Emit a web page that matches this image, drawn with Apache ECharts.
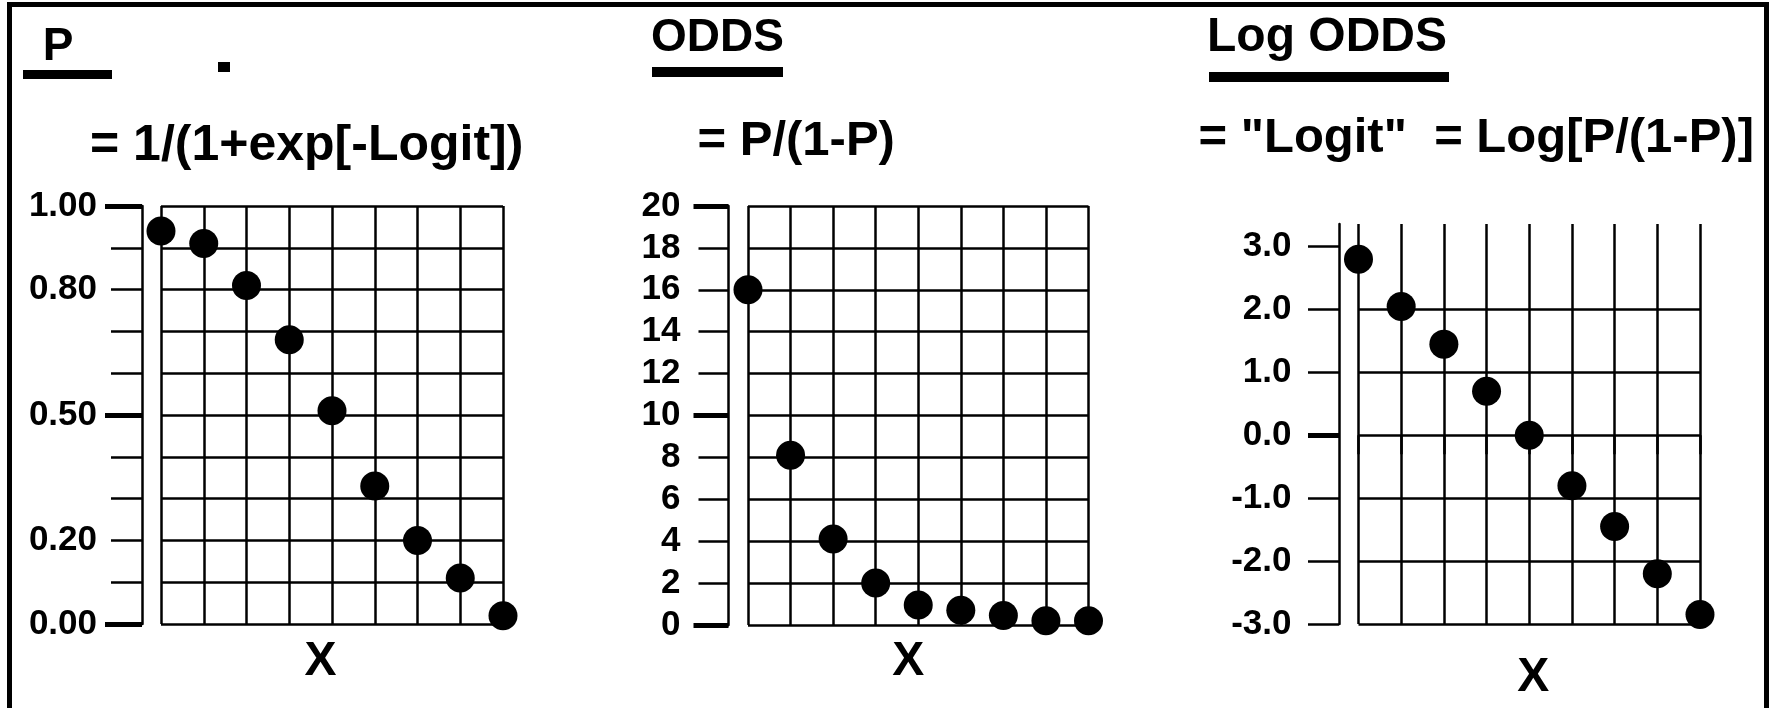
<!DOCTYPE html>
<html>
<head>
<meta charset="utf-8">
<script src="https://cdn.jsdelivr.net/npm/echarts@6/dist/echarts.min.js"></script>
<style>
html,body{margin:0;padding:0;background:#fff;}
#c{width:1769px;height:708px;}
</style>
</head>
<body>
<div id="c"></div>
<script>
// ---------- data ----------
const xValues = [1, 2, 3, 4, 5, 6, 7, 8, 9];
const pValues = [0.94, 0.91, 0.81, 0.68, 0.51, 0.33, 0.20, 0.11, 0.02];
const oddsValues = [16.0, 8.1, 4.1, 2.0, 0.95, 0.7, 0.45, 0.2, 0.2];
const logitValues = [2.8, 2.05, 1.45, 0.7, 0.0, -0.8, -1.45, -2.2, -2.85];

const pTickValues = [0, 0.2, 0.5, 0.8, 1.0];
const pTickLabels = ['0.00', '0.20', '0.50', '0.80', '1.00'];
const pMajorTicks = [0, 0.5, 1.0];

const oddsTickValues = [0, 2, 4, 6, 8, 10, 12, 14, 16, 18, 20];
const oddsTickLabels = ['0', '2', '4', '6', '8', '10', '12', '14', '16', '18', '20'];
const oddsMajorTicks = [0, 10, 20];

const logitTickValues = [-3, -2, -1, 0, 1, 2, 3];
const logitTickLabels = ['-3.0', '-2.0', '-1.0', '0.0', '1.0', '2.0', '3.0'];
const logitMajorTicks = [0];

const panelTitles = ['P', 'ODDS', 'Log ODDS'];
const panelFormulas = ['= 1/(1+exp[-Logit])', '= P/(1-P)', '= "Logit"  = Log[P/(1-P)]'];
const xAxisName = 'X';

// ---------- helpers ----------
const FONT = "'Liberation Sans', Arial, Helvetica, sans-serif";
const BLACK = '#000';
const LW = 2.5;

function labelFor(values, labels) {
  return function (v) {
    for (let i = 0; i < values.length; i++) {
      if (Math.abs(values[i] - v) < 1e-9) return labels[i];
    }
    return '';
  };
}
function pairs(ys) { return xValues.map((x, i) => [x, ys[i]]); }

const grids = [
  { left: 161, top: 206, width: 342, height: 418 },
  { left: 748, top: 206, width: 340.5, height: 419 },
  { left: 1358.5, top: 224, width: 341.5, height: 400 }
];

const xAxisCfg = [
  { nameGap: 14, padding: [0, 23, 0, 0], tick: false },
  { nameGap: 13, padding: [0, 20, 0, 0], tick: false },
  { nameGap: 30, padding: [0, 0, 0, 8], tick: true }
];

const xAxes = xAxisCfg.map((c, i) => ({
  gridIndex: i,
  type: 'value',
  min: 1, max: 9, interval: 1,
  axisLine: { show: false },
  axisLabel: { show: false },
  axisTick: { show: c.tick, length: 19, lineStyle: { color: BLACK, width: LW } },
  splitLine: { show: true, lineStyle: { color: BLACK, width: LW } },
  name: xAxisName,
  nameLocation: 'middle',
  nameGap: c.nameGap,
  nameTextStyle: { fontSize: 48, fontWeight: 'bold', fontFamily: FONT, color: BLACK, padding: c.padding }
}));

const yPanels = [
  { min: 0, max: 1, interval: 0.1, offset: 19, tickLen: 31, majorLen: 37, margin: 45,
    labelValues: pTickValues, labels: pTickLabels, major: pMajorTicks, tickValues: null },
  { min: 0, max: 20, interval: 2, offset: 19.5, tickLen: 30, majorLen: 35, margin: 48,
    labelValues: oddsTickValues, labels: oddsTickLabels, major: oddsMajorTicks, tickValues: null },
  { min: -3, max: 3.36, interval: 1, offset: 19.5, tickLen: 31, majorLen: 31, margin: 47.5,
    labelValues: logitTickValues, labels: logitTickLabels, major: logitMajorTicks, tickValues: logitTickValues }
];

const yAxes = [];
yPanels.forEach((p, i) => {
  const tick = { show: true, length: p.tickLen, lineStyle: { color: BLACK, width: LW } };
  if (p.tickValues) tick.customValues = p.tickValues;
  yAxes.push({
    gridIndex: i,
    type: 'value',
    position: 'left',
    min: p.min, max: p.max, interval: p.interval,
    offset: p.offset,
    axisLine: { show: true, lineStyle: { color: BLACK, width: LW } },
    axisTick: tick,
    axisLabel: {
      show: true,
      customValues: p.labelValues,
      formatter: labelFor(p.labelValues, p.labels),
      margin: p.margin,
      fontSize: 35, fontWeight: 'bold', fontFamily: FONT, color: BLACK
    },
    splitLine: { show: true, showMaxLine: i !== 2, lineStyle: { color: BLACK, width: LW } }
  });
  yAxes.push({
    gridIndex: i,
    type: 'value',
    position: 'left',
    min: p.min, max: p.max, interval: p.interval,
    offset: p.offset,
    axisLine: { show: false },
    axisTick: { show: true, customValues: p.major, length: p.majorLen, lineStyle: { color: BLACK, width: 5 } },
    axisLabel: { show: false },
    splitLine: { show: false }
  });
});

const seriesData = [pValues, oddsValues, logitValues];
const series = seriesData.map((ys, i) => ({
  type: 'scatter',
  xAxisIndex: i,
  yAxisIndex: i * 2,
  data: pairs(ys),
  symbol: 'circle',
  symbolSize: 29,
  clip: false,
  itemStyle: { color: BLACK, opacity: 1 },
  z: 5
}));

// ---------- decorative graphics (frame, underlines, titles) ----------
const titlePos = [
  { x: 58, y: 47, size: 46 }, { x: 717.5, y: 38, size: 46 }, { x: 1327, y: 38, size: 48 }
];
const formulaPos = [
  { x: 90, y: 146, size: 50 }, { x: 697.5, y: 141, size: 49 }, { x: 1198.5, y: 138, size: 49 }
];
const underlineRects = [
  { x: 23, y: 70, width: 89, height: 9 },
  { x: 652, y: 67, width: 131, height: 10 },
  { x: 1209, y: 72, width: 240, height: 10 }
];

const graphics = [
  { type: 'rect', shape: { x: 9.5, y: 4.5, width: 1757, height: 900 },
    style: { fill: 'none', stroke: BLACK, lineWidth: 5 }, silent: true },
  { type: 'rect', shape: { x: 218, y: 62, width: 12, height: 10 }, style: { fill: BLACK } }
];
underlineRects.forEach(r => graphics.push({ type: 'rect', shape: r, style: { fill: BLACK } }));
panelTitles.forEach((t, i) => graphics.push({
  type: 'text', x: titlePos[i].x, y: titlePos[i].y,
  style: { text: t, fill: BLACK, fontSize: titlePos[i].size, fontWeight: 'bold', fontFamily: FONT,
           align: 'center', verticalAlign: 'middle', textAlign: 'center', textVerticalAlign: 'middle' }
}));
panelFormulas.forEach((t, i) => graphics.push({
  type: 'text', x: formulaPos[i].x, y: formulaPos[i].y,
  style: { text: t, fill: BLACK, fontSize: formulaPos[i].size, fontWeight: 'bold', fontFamily: FONT,
           align: 'left', verticalAlign: 'middle', textAlign: 'left', textVerticalAlign: 'middle' }
}));

const chart = echarts.init(document.getElementById('c'), null, { renderer: 'canvas' });
chart.setOption({
  animation: false,
  backgroundColor: '#fff',
  grid: grids.map(g => Object.assign({ containLabel: false, outerBoundsMode: 'none' }, g)),
  xAxis: xAxes,
  yAxis: yAxes,
  series: series,
  graphic: graphics
});
</script>
</body>
</html>
